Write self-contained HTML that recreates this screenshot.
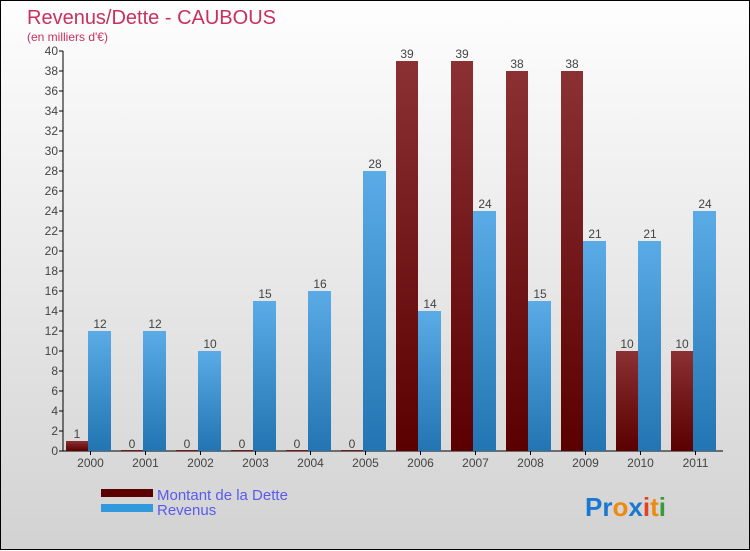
<!DOCTYPE html>
<html><head><meta charset="utf-8"><style>
html,body{margin:0;padding:0}
body{width:750px;height:550px;overflow:hidden;font-family:"Liberation Sans",sans-serif}
#wrap{position:relative;width:748px;height:548px;border:1px solid #000;background:linear-gradient(#fefefe,#d2d2d2)}
svg{position:absolute;left:0;top:0}
</style></head><body>
<div id="wrap">
<svg id="chart" width="750" height="550">
<defs>
<linearGradient id="gr" x1="0" y1="0" x2="0" y2="1"><stop offset="0" stop-color="#8b3033"/><stop offset="1" stop-color="#5a0000"/></linearGradient>
<linearGradient id="gb" x1="0" y1="0" x2="0" y2="1"><stop offset="0" stop-color="#5aabe6"/><stop offset="1" stop-color="#2275b2"/></linearGradient>
</defs>
<text x="26" y="23" font-size="20" fill="#c8305f">Revenus/Dette - CAUBOUS</text>
<text x="26" y="40" font-size="12" fill="#c8305f">(en milliers d'€)</text>
<g id="axes"></g><g id="bars"></g>
<rect x="100" y="488" width="52" height="8" fill="#5a0000"/>
<text x="156" y="499" font-size="15" fill="#5a5af0">Montant de la Dette</text>
<rect x="100" y="503" width="52" height="8" fill="#3399dd"/>
<text x="156" y="514" font-size="15" fill="#5a5af0">Revenus</text>
<text x="584" y="515" font-size="26" font-weight="bold"><tspan fill="#1b78d0">Pr</tspan><tspan fill="#ee8a10">o</tspan><tspan fill="#1b78d0">x</tspan><tspan fill="#e8401c">i</tspan><tspan fill="#ee8a10">t</tspan><tspan fill="#3a9a3a">i</tspan></text>
</svg></div>
<script>
const years=["2000","2001","2002","2003","2004","2005","2006","2007","2008","2009","2010","2011"];
const dette=[1,0,0,0,0,0,39,39,38,38,10,10];
const revenus=[12,12,10,15,16,28,14,24,15,21,21,24];
const ticks=[0,2,4,6,8,10,12,14,16,18,20,22,24,26,28,30,32,34,36,38,40];
const NS="http://www.w3.org/2000/svg";
const x0=62,gw=55,y0=450,ppu=10;
const yS=v=>y0-v*ppu;
const ax=document.getElementById('axes'),bg=document.getElementById('bars');
function mk(tag,at,par){const e=document.createElementNS(NS,tag);for(const k in at)e.setAttribute(k,at[k]);par.appendChild(e);return e;}
let l=mk('line',{x1:x0,y1:yS(40),x2:x0,y2:y0,stroke:'#000'},ax);


l=mk('line',{x1:x0,y1:y0,x2:x0+gw*years.length,y2:y0,stroke:'#000'},ax);


ticks.forEach(t=>{mk('line',{x1:x0-4,y1:yS(t),x2:x0,y2:yS(t),stroke:'#000'},ax);
const tx=mk('text',{x:x0-5,y:yS(t)+4,'font-size':12,'text-anchor':'end',fill:'#444'},ax);tx.textContent=t;

});
years.forEach((y,i)=>{const gx=x0+i*gw;
mk('line',{x1:gx+gw/2,y1:y0,x2:gx+gw/2,y2:y0+4,stroke:'#000'},ax);
const tx=mk('text',{x:gx+gw/2,y:y0+16,'font-size':12,'text-anchor':'middle',fill:'#444'},ax);tx.textContent=y;


const hd=Math.max(dette[i]*ppu,1);
const r=mk('rect',{x:gx+3,y:y0-hd,width:22,height:hd,fill:'url(#gr)'},bg);


const t1=mk('text',{x:gx+14,y:yS(dette[i])-3,'font-size':12,'text-anchor':'middle',fill:'#444'},bg);t1.textContent=dette[i];


const hb=revenus[i]*ppu;
const b=mk('rect',{x:gx+25,y:y0-hb,width:23,height:hb,fill:'url(#gb)'},bg);


const t2=mk('text',{x:gx+37,y:yS(revenus[i])-3,'font-size':12,'text-anchor':'middle',fill:'#444'},bg);t2.textContent=revenus[i];


});
</script>
</body></html>
